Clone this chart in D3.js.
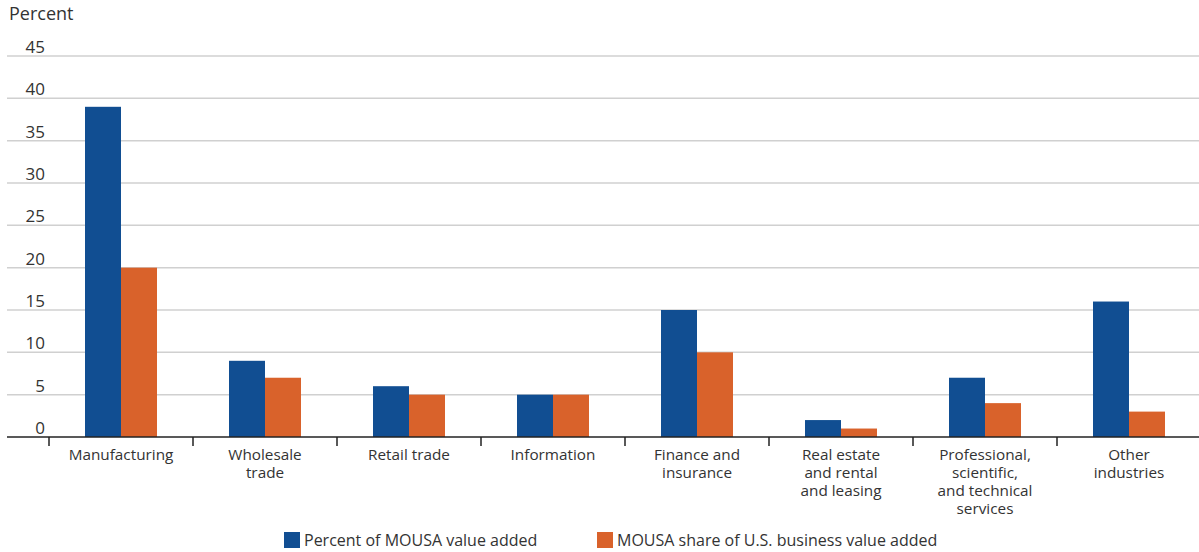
<!DOCTYPE html>
<html>
<head>
<meta charset="utf-8">
<script src="https://cdn.jsdelivr.net/npm/d3@7"></script>
<style>
  body { margin: 0; background: #fff; }
  text { font-family: "Open Sans", "DejaVu Sans", sans-serif; fill: #333; }
</style>
</head>
<body>
<div id="chart"></div>
<script>
var categories = [
    ["Manufacturing"],
    ["Wholesale", "trade"],
    ["Retail trade"],
    ["Information"],
    ["Finance and", "insurance"],
    ["Real estate", "and rental", "and leasing"],
    ["Professional,", "scientific,", "and technical", "services"],
    ["Other", "industries"]
];
var seriesNames = ["Percent of MOUSA value added", "MOUSA share of U.S. business value added"];
var percentValueAdded = [39, 9, 6, 5, 15, 2, 7, 16];
var shareOfBusiness = [20, 7, 5, 5, 10, 1, 4, 3];
var yTicks = [0, 5, 10, 15, 20, 25, 30, 35, 40, 45];
var colors = ["#114e92", "#d9622b"];

var width = 1199, height = 552;
var svg = d3.select('#chart').append('svg')
    .attr('width', width)
    .attr('height', height);

var y = d3.scaleLinear().domain([0, 45]).range([437, 56]);
var x = d3.scaleBand().domain(d3.range(categories.length)).range([49, 1201]);
var inner = d3.scaleBand().domain([0, 1]).range([0, 72]);

// gridlines
svg.append('g').selectAll('line')
    .data(yTicks.filter(function (d) { return d > 0; }))
    .enter().append('line')
    .attr('x1', 7).attr('x2', width)
    .attr('y1', function (d) { return y(d); })
    .attr('y2', function (d) { return y(d); })
    .attr('stroke', '#d0d0d0')
    .attr('stroke-width', 1.5);

// y labels sit above the lines
svg.append('g').selectAll('text')
    .data(yTicks)
    .enter().append('text')
    .attr('x', 45)
    .attr('y', function (d) { return y(d) - 3; })
    .attr('text-anchor', 'end')
    .style('font-size', '17px')
    .text(function (d) { return d; });

svg.append('text')
    .attr('x', 9).attr('y', 20)
    .style('font-size', '18px')
    .text('Percent');

// bars
var data = categories.map(function (c, i) {
    return [percentValueAdded[i], shareOfBusiness[i]];
});
var groups = svg.append('g').selectAll('g')
    .data(data)
    .enter().append('g')
    .attr('transform', function (d, i) {
        return 'translate(' + (x(i) + x.bandwidth() / 2 - 36) + ',0)';
    });
groups.selectAll('rect')
    .data(function (d) { return d; })
    .enter().append('rect')
    .attr('x', function (d, j) { return inner(j); })
    .attr('width', inner.bandwidth())
    .attr('y', function (d) { return y(d); })
    .attr('height', function (d) { return y(0) - y(d); })
    .attr('fill', function (d, j) { return colors[j]; });

// baseline and ticks
svg.append('line')
    .attr('x1', 7).attr('x2', width)
    .attr('y1', y(0)).attr('y2', y(0))
    .attr('stroke', '#222').attr('stroke-width', 1.5);
svg.append('g').selectAll('line')
    .data(d3.range(categories.length))
    .enter().append('line')
    .attr('x1', function (i) { return x(i); })
    .attr('x2', function (i) { return x(i); })
    .attr('y1', y(0)).attr('y2', y(0) + 9)
    .attr('stroke', '#222').attr('stroke-width', 1.5);

// category labels
var labels = svg.append('g').selectAll('text')
    .data(categories)
    .enter().append('text')
    .attr('text-anchor', 'middle')
    .style('font-size', '15.3px')
    .attr('transform', function (d, i) {
        return 'translate(' + (x(i) + x.bandwidth() / 2) + ',460)';
    });
labels.selectAll('tspan')
    .data(function (d) { return d; })
    .enter().append('tspan')
    .attr('x', 0)
    .attr('y', function (d, k) { return k * 18; })
    .text(function (d) { return d; });

// legend
var legendX = [284, 597];
var legend = svg.append('g').selectAll('g')
    .data(seriesNames)
    .enter().append('g')
    .attr('transform', function (d, i) { return 'translate(' + legendX[i] + ',532)'; });
legend.append('rect')
    .attr('width', 16).attr('height', 16)
    .attr('fill', function (d, i) { return colors[i]; });
legend.append('text')
    .attr('x', 20).attr('y', 14)
    .style('font-size', '16px')
    .text(function (d) { return d; });
</script>
</body>
</html>
